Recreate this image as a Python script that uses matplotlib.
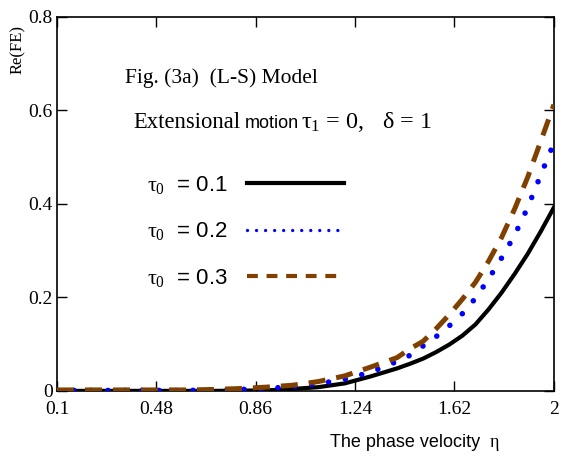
import matplotlib
matplotlib.use("Agg")
import matplotlib.pyplot as plt
from matplotlib.lines import Line2D

plt.rcParams['mathtext.fontset'] = 'custom'
plt.rcParams['mathtext.rm'] = 'Liberation Serif'
plt.rcParams['mathtext.it'] = 'Liberation Serif'
plt.rcParams['mathtext.bf'] = 'Liberation Serif:bold'

# values (phase velocity eta vs Re(FE))
eta = [0.1, 0.2, 0.3, 0.4, 0.5, 0.6, 0.7, 0.8, 0.9, 1.0,
       1.1, 1.2, 1.3, 1.4, 1.45, 1.5, 1.55, 1.6, 1.65, 1.7,
       1.75, 1.8, 1.85, 1.9, 1.95, 2.0]
fe_tau01 = [0.0, 0.0, 0.0, 0.0, 0.0, 0.0, 0.0, 0.0005, 0.001, 0.004,
            0.008, 0.016, 0.031, 0.048, 0.058, 0.069, 0.083, 0.099, 0.118, 0.142,
            0.174, 0.210, 0.250, 0.293, 0.341, 0.392]
fe_tau02 = [0.001, 0.001, 0.001, 0.001, 0.001, 0.001, 0.002, 0.003, 0.005, 0.009,
            0.015, 0.025, 0.040, 0.063, 0.076, 0.096, 0.116, 0.139, 0.165, 0.198,
            0.239, 0.284, 0.333, 0.392, 0.462, 0.530]
fe_tau03 = [0.002, 0.002, 0.002, 0.002, 0.002, 0.002, 0.003, 0.005, 0.008, 0.012,
            0.020, 0.032, 0.051, 0.071, 0.090, 0.106, 0.133, 0.163, 0.196, 0.232,
            0.277, 0.328, 0.389, 0.457, 0.534, 0.612]

labels = [r'$\tau_0$  = 0.1', r'$\tau_0$  = 0.2', r'$\tau_0$  = 0.3']
xticks = [0.1, 0.48, 0.86, 1.24, 1.62, 2.0]
xtick_labels = ['0.1', '0.48', '0.86', '1.24', '1.62', '2']
yticks = [0, 0.2, 0.4, 0.6, 0.8]
ytick_labels = ['0', '0.2', '0.4', '0.6', '0.8']

blue = '#0000ff'
brown = '#804000'

fig = plt.figure(figsize=(5.64, 4.67), dpi=100)
ax = fig.add_axes([0.101, 0.163, 0.881, 0.801])

ax.plot(eta, fe_tau01, color='black', lw=3.0, zorder=2)
ax.plot(eta, fe_tau02, color=blue, lw=4.0, linestyle=(0, (0.01, 3.05)),
        dash_capstyle='round', zorder=3)
ax.plot(eta, fe_tau03, color=brown, lw=3.6, linestyle=(0, (3.4, 2.2)),
        dash_capstyle='butt', zorder=4)

ax.set_xlim(0.1, 2.0)
ax.set_ylim(0, 0.8)
ax.set_xticks(xticks)
ax.set_xticklabels(xtick_labels)
ax.set_yticks(yticks)
ax.set_yticklabels(ytick_labels)
ax.tick_params(direction='in', top=True, right=True, length=7, width=1,
               labelsize=14, pad=7)
ax.tick_params(axis='y', pad=3)
for lab in ax.get_xticklabels() + ax.get_yticklabels():
    lab.set_family('Liberation Serif')
for sp in ax.spines.values():
    sp.set_linewidth(1.2)

# legend samples
handles = [
    Line2D([], [], color='black', lw=3.0),
    Line2D([], [], color=blue, lw=2.4, linestyle=(0, (0.01, 2.7)), dash_capstyle='round'),
    Line2D([], [], color=brown, lw=3.0, linestyle=(0, (2.6, 2.1)), dash_capstyle='butt'),
]
leg = ax.legend(handles, labels, loc='upper left', bbox_to_anchor=(0.181, 0.58),
                frameon=False, markerfirst=False, handlelength=4.4, handletextpad=0.85,
                labelspacing=1.1, borderpad=0, borderaxespad=0,
                prop={'family': 'Liberation Sans', 'size': 16})

ax.text(0.137, 0.824, 'Fig. (3a)  (L-S) Model', transform=ax.transAxes,
        family='Liberation Serif', fontsize=15.5, va='baseline')
ax.text(0.153, 0.703, 'Extensional', transform=ax.transAxes,
        family='Liberation Serif', fontsize=16.3, va='baseline')
ax.text(0.378, 0.703, 'motion', transform=ax.transAxes,
        family='Liberation Sans', fontsize=13, va='baseline')
ax.text(0.492, 0.703, r'$\tau_1$ = 0,', transform=ax.transAxes,
        family='Liberation Serif', fontsize=17.5, va='baseline')
ax.text(0.655, 0.703, r'$\delta$ = 1', transform=ax.transAxes,
        family='Liberation Serif', fontsize=17.5, va='baseline')

fig.text(0.032, 0.893, 'Re(FE)', rotation=90, ha='center', va='center',
         family='Liberation Serif', fontsize=12)
fig.text(0.585, 0.043, 'The phase velocity', family='Liberation Sans',
         fontsize=13, va='baseline')
fig.text(0.868, 0.043, '\u03b7', family='Liberation Serif', fontsize=13,
         va='baseline')

fig.savefig('out.png', dpi=100)
